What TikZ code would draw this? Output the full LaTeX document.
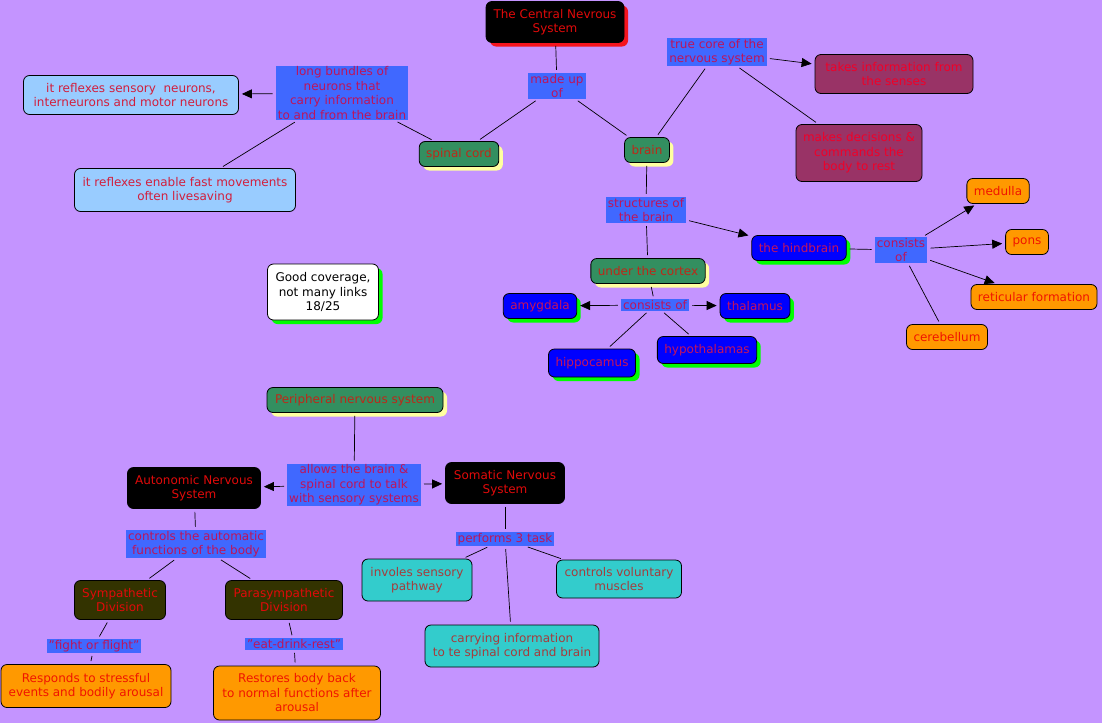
\documentclass[tikz,border=0pt]{standalone}
\usepackage{fontspec}
\setmainfont{DejaVu Sans}
\usetikzlibrary{arrows.meta, shadows}

\definecolor{bgpurple}{RGB}{196,148,255}
\definecolor{linkblue}{RGB}{64,104,255}
\definecolor{linktext}{RGB}{190,20,90}
\definecolor{cnsred}{RGB}{225,10,10}
\definecolor{shred}{RGB}{245,20,30}
\definecolor{cordgreen}{RGB}{51,143,96}
\definecolor{cordtext}{RGB}{190,40,25}
\definecolor{shyellow}{RGB}{255,255,160}
\definecolor{skyblue}{RGB}{153,204,255}
\definecolor{skytext}{RGB}{210,30,60}
\definecolor{maroonbox}{RGB}{153,51,102}
\definecolor{maroontext}{RGB}{240,0,40}
\definecolor{deepblue}{RGB}{0,0,255}
\definecolor{bluetext}{RGB}{200,20,90}
\definecolor{shgreen}{RGB}{0,255,0}
\definecolor{orangebox}{RGB}{255,153,0}
\definecolor{orangetext}{RGB}{240,20,0}
\definecolor{olivebox}{RGB}{51,51,0}
\definecolor{tealbox}{RGB}{51,204,204}
\definecolor{tealtext}{RGB}{165,60,60}

\begin{document}
\begin{tikzpicture}[x=1pt, y=-1pt,
  >={Triangle[length=10pt,width=9pt]},
  every node/.style={font=\fontsize{12}{14.5}\selectfont, align=center},
  concept/.style={draw=black, line width=0.8pt, rounded corners=6pt, inner xsep=7pt, inner ysep=4pt, minimum height=25pt},
  linkphrase/.style={fill=linkblue, text=linktext, inner xsep=2pt, inner ysep=1pt},
  blackbox/.style={concept, fill=black, text=cnsred},
  cnsbox/.style={blackbox, drop shadow={shadow xshift=4pt, shadow yshift=-4pt, fill=shred, opacity=1}},
  cordbox/.style={concept, fill=cordgreen, text=cordtext, drop shadow={shadow xshift=4pt, shadow yshift=-4pt, fill=shyellow, opacity=1}},
  skybox/.style={concept, fill=skyblue, text=skytext},
  maroon/.style={concept, fill=maroonbox, text=maroontext},
  bluebox/.style={concept, fill=deepblue, text=bluetext, drop shadow={shadow xshift=4pt, shadow yshift=-4pt, fill=shgreen, opacity=1}},
  orange/.style={concept, fill=orangebox, text=orangetext},
  olive/.style={concept, fill=olivebox, text=cnsred},
  teal/.style={concept, fill=tealbox, text=tealtext},
  note/.style={concept, fill=white, text=black, drop shadow={shadow xshift=4pt, shadow yshift=-4pt, fill=shgreen, opacity=1}},
  link/.style={line width=0.7pt, shorten <=3pt, shorten >=3pt}
]

  \useasboundingbox[fill=bgpurple] (0,0) rectangle (1102,723);

  % central nervous system
  \node (cns) [cnsbox, minimum width=138pt, minimum height=41pt] at (555,22) {The Central Nevrous\\System};
  \node (madeup) [linkphrase] at (557,86) {made up\\of};
  \node (spinal) [cordbox] at (459,154) {spinal cord};
  \node (brain) [cordbox] at (647,150) {brain};

  \node (bundles) [linkphrase] at (342,93) {long bundles of\\neurons that\\carry information\\to and from the brain};
  \node (reflexsens) [skybox, minimum width=215pt, minimum height=39pt] at (131,95) {it reflexes sensory\ \ neurons,\\interneurons and motor neurons};
  \node (reflexfast) [skybox, minimum width=221pt, minimum height=43pt] at (185,190) {it reflexes enable fast movements\\often livesaving};

  \node (truecore) [linkphrase] at (717,52) {true core of the\\nervous system};
  \node (takesinfo) [maroon, minimum width=158pt, minimum height=39pt] at (894,74) {takes information from\\the senses};
  \node (decisions) [maroon, minimum width=126pt, minimum height=57pt] at (859,153) {makes decisions \&\\commands the\\body to rest};

  % structures of the brain
  \node (structures) [linkphrase] at (646,210) {structures of\\the brain};
  \node (hindbrain) [bluebox] at (799,248) {the hindbrain};
  \node (consistshind) [linkphrase] at (901,250) {consists\\of};
  \node (medulla) [orange] at (998,191) {medulla};
  \node (pons) [orange] at (1027,242) {pons};
  \node (reticular) [orange] at (1034,297) {reticular formation};
  \node (cerebellum) [orange] at (947,337) {cerebellum};

  \node (cortex) [cordbox] at (648,271) {under the cortex};
  \node (consistscortex) [linkphrase] at (655,305) {consists of};
  \node (amygdala) [bluebox] at (540,306) {amygdala};
  \node (thalamus) [bluebox] at (755,306) {thalamus};
  \node (hippocamus) [bluebox, minimum height=28pt] at (592,363) {hippocamus};
  \node (hypothal) [bluebox, minimum height=27pt] at (707,350) {hypothalamas};

  \node (coverage) [note, minimum width=111pt, minimum height=56pt] at (323,292) {Good coverage,\\not many links\\18/25};

  % peripheral nervous system
  \node (peripheral) [cordbox, minimum width=176pt] at (355,400) {Peripheral nervous system};
  \node (allows) [linkphrase] at (354,485) {allows the brain \&\\spinal cord to talk\\with sensory systems};
  \node (autonomic) [blackbox, minimum width=133pt, minimum height=41pt] at (194,488) {Autonomic Nervous\\System};
  \node (somatic) [blackbox, minimum width=119pt, minimum height=41pt] at (505,483) {Somatic Nervous\\System};

  \node (automatic) [linkphrase] at (196,544) {controls the automatic\\functions of the body};
  \node (sympathetic) [olive, minimum width=91pt, minimum height=39pt] at (120,600) {Sympathetic\\Division};
  \node (parasym) [olive, minimum width=117pt, minimum height=39pt] at (284,600) {Parasympathetic\\Division};
  \node (fight) [linkphrase] at (94,646) {"fight or flight"};
  \node (eat) [linkphrase] at (294,644) {"eat-drink-rest"};
  \node (responds) [orange, minimum width=170pt, minimum height=43pt] at (86,686) {Responds to stressful\\events and bodily arousal};
  \node (restores) [orange, minimum width=167pt, minimum height=54pt] at (297,693) {Restores body back\\to normal functions after\\arousal};

  \node (performs) [linkphrase] at (505,539) {performs 3 task};
  \node (involes) [teal, minimum width=110pt, minimum height=42pt] at (417,580) {involes sensory\\pathway};
  \node (voluntary) [teal, minimum width=125pt, minimum height=38pt] at (619,579) {controls voluntary\\muscles};
  \node (carrying) [teal, minimum width=174pt, minimum height=42pt] at (512,646) {carrying information\\to te spinal cord and brain};

  % connectors
  \draw[link] (cns) -- (madeup);
  \draw[link] (madeup) -- (spinal);
  \draw[link] (madeup) -- (brain);
  \draw[link] (spinal) -- (bundles);
  \draw[link, ->] (bundles) -- (reflexsens);
  \draw[link] (bundles) -- (reflexfast);
  \draw[link] (brain) -- (truecore);
  \draw[link, ->] (truecore) -- (takesinfo);
  \draw[link] (truecore) -- (decisions);

  \draw[link] (brain) -- (structures);
  \draw[link, ->] (structures) -- (hindbrain);
  \draw[link] (structures) -- (cortex);
  \draw[link] (hindbrain) -- (consistshind);
  \draw[link, ->] (consistshind) -- (medulla);
  \draw[link, ->] (consistshind) -- (pons);
  \draw[link, ->] (consistshind) -- (reticular);
  \draw[link] (consistshind) -- (cerebellum);
  \draw[link] (cortex) -- (consistscortex);
  \draw[link, ->] (consistscortex) -- (amygdala);
  \draw[link, ->] (consistscortex) -- (thalamus);
  \draw[link] (consistscortex) -- (hippocamus);
  \draw[link] (consistscortex) -- (hypothal);

  \draw[link] (peripheral) -- (allows);
  \draw[link, ->] (allows) -- (autonomic);
  \draw[link, ->] (allows) -- (somatic);
  \draw[link] (autonomic) -- (automatic);
  \draw[link] (automatic) -- (sympathetic);
  \draw[link] (automatic) -- (parasym);
  \draw[link] (sympathetic) -- (fight);
  \draw[link] (fight) -- (responds);
  \draw[link] (parasym) -- (eat);
  \draw[link] (eat) -- (restores);
  \draw[link] (somatic) -- (performs);
  \draw[link] (performs) -- (involes);
  \draw[link] (performs) -- (voluntary);
  \draw[link] (performs) -- (carrying);

\end{tikzpicture}
\end{document}
